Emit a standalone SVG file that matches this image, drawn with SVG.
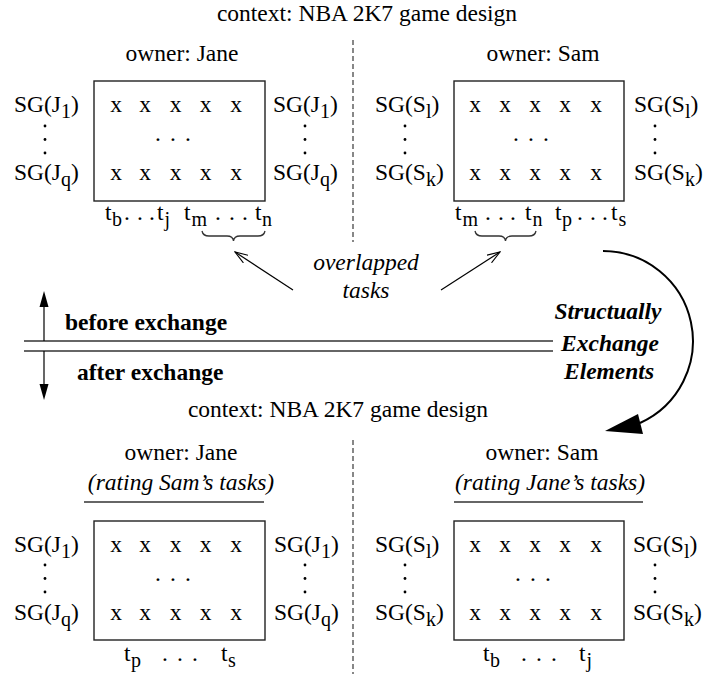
<svg xmlns="http://www.w3.org/2000/svg" width="713" height="674" viewBox="0 0 713 674">
<style>
.t{font-family:"Liberation Serif","Times New Roman",serif;font-size:23.5px;fill:#000}
.sub{font-size:20px}
.i{font-style:italic}
.b{font-weight:bold}
.bi{font-weight:bold;font-style:italic}
.m{text-anchor:middle}
.box{fill:none;stroke:#222;stroke-width:1.4}
.ln{fill:none;stroke:#333;stroke-width:1.3}
.dash{fill:none;stroke:#555;stroke-width:1.4;stroke-dasharray:5 3}
.arr{fill:none;stroke:#000;stroke-width:1.2}
.dot{fill:#000}
</style>
<defs>
<marker id="open" viewBox="0 0 14 10" refX="13" refY="5" markerWidth="14" markerHeight="10" markerUnits="userSpaceOnUse" orient="auto">
<path d="M0,0.5 L13,5 L0,9.5" fill="none" stroke="#000" stroke-width="1.1"/>
</marker>
<g id="vdots">
<circle class="dot" cx="0" cy="0" r="1.4"/>
<circle class="dot" cx="0" cy="13.5" r="1.4"/>
<circle class="dot" cx="0" cy="27" r="1.4"/>
</g>
</defs>
<rect width="713" height="674" fill="#fff"/>

<g id="headers">
<text class="t m" x="367" y="21">context: NBA 2K7 game design</text>
<text class="t m" x="338" y="417">context: NBA 2K7 game design</text>
<line class="dash" x1="353" y1="40" x2="353" y2="242"/>
<line class="dash" x1="353" y1="440" x2="353" y2="674"/>
</g>

<g id="jane-before">
<text class="t m" x="182" y="61">owner: Jane</text>
<rect class="box" x="94" y="81" width="171" height="120"/>
<text class="t" x="14" y="112">SG(J<tspan class="sub" dy="6">1</tspan><tspan dy="-6">)</tspan></text>
<use href="#vdots" x="45" y="126"/>
<text class="t" x="14" y="180">SG(J<tspan class="sub" dy="6">q</tspan><tspan dy="-6">)</tspan></text>
<text class="t" x="273" y="112">SG(J<tspan class="sub" dy="6">1</tspan><tspan dy="-6">)</tspan></text>
<use href="#vdots" x="305" y="126"/>
<text class="t" x="273" y="180">SG(J<tspan class="sub" dy="6">q</tspan><tspan dy="-6">)</tspan></text>
<text class="t m" x="116 130 145 160 175.5 190 205.5 220 236" y="112">x x x x x</text>
<text class="t m" x="158 165 173 180 188" y="141">. . .</text>
<text class="t m" x="116 130 145 160 175.5 190 205.5 220 236" y="180">x x x x x</text>
<text class="t" y="220"><tspan x="105">t</tspan><tspan class="sub" x="112" dy="6">b</tspan><tspan x="124 137 149" dy="-6">...</tspan><tspan x="157">t</tspan><tspan class="sub" x="164.5" dy="6">j</tspan><tspan x="184" dy="-6">t</tspan><tspan class="sub" x="191.5" dy="6">m</tspan><tspan x="215 229 242" dy="-6">...</tspan><tspan x="255">t</tspan><tspan class="sub" x="262" dy="6">n</tspan></text>
<path class="ln" d="M202,231 Q203,236 209,236 L227,236 Q233,236 233.5,241 Q234,236 240,236 L258,236 Q264,236 265,231"/>
</g>

<g id="sam-before">
<text class="t m" x="543" y="61">owner: Sam</text>
<rect class="box" x="454" y="81" width="170" height="120"/>
<text class="t" x="375" y="112">SG(S<tspan class="sub" dy="6">l</tspan><tspan dy="-6">)</tspan></text>
<use href="#vdots" x="405" y="126"/>
<text class="t" x="375" y="180">SG(S<tspan class="sub" dy="6">k</tspan><tspan dy="-6">)</tspan></text>
<text class="t" x="634" y="112">SG(S<tspan class="sub" dy="6">l</tspan><tspan dy="-6">)</tspan></text>
<use href="#vdots" x="655" y="126"/>
<text class="t" x="634" y="180">SG(S<tspan class="sub" dy="6">k</tspan><tspan dy="-6">)</tspan></text>
<text class="t m" x="475 490 505 520 535 550 565 580 596" y="112">x x x x x</text>
<text class="t m" x="516 523 531 538 546" y="141">. . .</text>
<text class="t m" x="475 490 505 520 535 550 565 580 596" y="180">x x x x x</text>
<text class="t" y="220"><tspan x="455">t</tspan><tspan class="sub" x="462.5" dy="6">m</tspan><tspan x="485 498 510" dy="-6">...</tspan><tspan x="525">t</tspan><tspan class="sub" x="532.5" dy="6">n</tspan><tspan x="555" dy="-6">t</tspan><tspan class="sub" x="562" dy="6">p</tspan><tspan x="577 590 602" dy="-6">...</tspan><tspan x="611">t</tspan><tspan class="sub" x="618.5" dy="6">s</tspan></text>
<path class="ln" d="M475,231 Q476,236 482,236 L499,236 Q505,236 505.5,241 Q506,236 512,236 L529,236 Q535,236 536,231"/>
</g>

<g id="overlapped-label">
<text class="t i m" x="366" y="270">overlapped</text>
<text class="t i m" x="366" y="298">tasks</text>
</g>

<g id="divider">
<line class="ln" x1="24" y1="341" x2="553" y2="341"/>
<line class="ln" x1="24" y1="351" x2="553" y2="351"/>
<text class="t b" x="65" y="330">before exchange</text>
<text class="t b" x="77" y="380">after exchange</text>
</g>

<g id="exchange-label">
<text class="t bi m" x="608" y="319">Structually</text>
<text class="t bi m" x="610" y="351">Exchange</text>
<text class="t bi m" x="609" y="379">Elements</text>
</g>

<g id="jane-after">
<text class="t m" x="181" y="460">owner: Jane</text>
<text class="t i m" x="181" y="490">(rating Sam’s tasks)</text>
<line class="ln" x1="84" y1="502" x2="264" y2="502"/>
<rect class="box" x="94" y="521" width="171" height="119"/>
<text class="t" x="14" y="552">SG(J<tspan class="sub" dy="6">1</tspan><tspan dy="-6">)</tspan></text>
<use href="#vdots" x="45" y="565"/>
<text class="t" x="14" y="620">SG(J<tspan class="sub" dy="6">q</tspan><tspan dy="-6">)</tspan></text>
<text class="t" x="274" y="552">SG(J<tspan class="sub" dy="6">1</tspan><tspan dy="-6">)</tspan></text>
<use href="#vdots" x="305" y="565"/>
<text class="t" x="274" y="620">SG(J<tspan class="sub" dy="6">q</tspan><tspan dy="-6">)</tspan></text>
<text class="t m" x="116 130 145 160 175.5 190 205.5 220 236" y="552">x x x x x</text>
<text class="t m" x="158 165 173 180 188" y="581">. . .</text>
<text class="t m" x="116 130 145 160 175.5 190 205.5 220 236" y="620">x x x x x</text>
<text class="t" y="661"><tspan x="124">t</tspan><tspan class="sub" x="131" dy="6">p</tspan><tspan x="162 177 192" dy="-6">...</tspan><tspan x="221">t</tspan><tspan class="sub" x="228" dy="6">s</tspan></text>
</g>

<g id="sam-after">
<text class="t m" x="542" y="460">owner: Sam</text>
<text class="t i m" x="550" y="490">(rating Jane’s tasks)</text>
<line class="ln" x1="454" y1="502" x2="643" y2="502"/>
<rect class="box" x="454" y="521" width="170" height="119"/>
<text class="t" x="375" y="552">SG(S<tspan class="sub" dy="6">l</tspan><tspan dy="-6">)</tspan></text>
<use href="#vdots" x="405" y="565"/>
<text class="t" x="375" y="620">SG(S<tspan class="sub" dy="6">k</tspan><tspan dy="-6">)</tspan></text>
<text class="t" x="633" y="552">SG(S<tspan class="sub" dy="6">l</tspan><tspan dy="-6">)</tspan></text>
<use href="#vdots" x="655" y="565"/>
<text class="t" x="633" y="620">SG(S<tspan class="sub" dy="6">k</tspan><tspan dy="-6">)</tspan></text>
<text class="t m" x="475 490 505 520 535 550 565 580 596" y="552">x x x x x</text>
<text class="t m" x="518 525 533 540 548" y="581">. . .</text>
<text class="t m" x="475 490 505 520 535 550 565 580 596" y="620">x x x x x</text>
<text class="t" y="661"><tspan x="483">t</tspan><tspan class="sub" x="490" dy="6">b</tspan><tspan x="521 536 551" dy="-6">...</tspan><tspan x="579">t</tspan><tspan class="sub" x="586.5" dy="6">j</tspan></text>
</g>

<g id="connectors">
<line class="arr" x1="293" y1="290" x2="235" y2="252" marker-end="url(#open)"/>
<line class="arr" x1="441" y1="290" x2="500" y2="252" marker-end="url(#open)"/>
<line class="arr" x1="44" y1="341" x2="44" y2="305"/>
<polygon points="44,291 39.5,307 48.5,307" fill="#000"/>
<line class="arr" x1="44" y1="351" x2="44" y2="386"/>
<polygon points="44,400 39.5,384 48.5,384" fill="#000"/>
<path d="M603,251 A90,90 0 0 1 640,423" fill="none" stroke="#000" stroke-width="2"/>
<polygon points="605,431 638,414 643,434" fill="#000"/>
</g>
</svg>
